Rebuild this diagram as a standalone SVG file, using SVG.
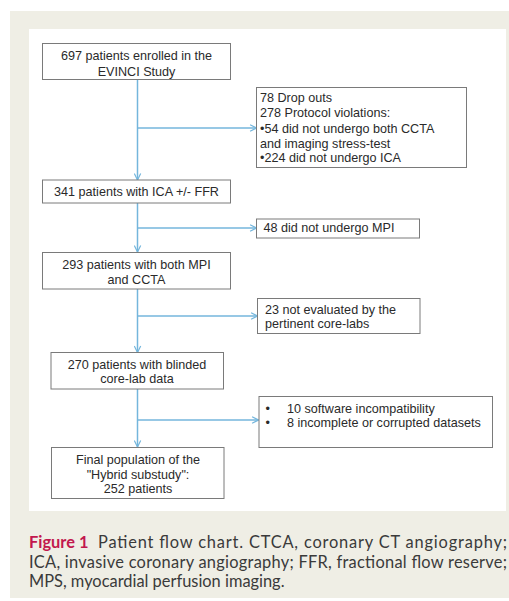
<svg xmlns="http://www.w3.org/2000/svg" width="509" height="601" viewBox="0 0 509 601">
<defs>
<style>
.box{fill:#fff;stroke:#7a7a7a;stroke-width:1}
.t{font-family:"Liberation Sans",Arial,sans-serif;font-size:12.6px;fill:#2a2a2a}
.c{text-anchor:middle}
.con{fill:none;stroke:#74b6dc;stroke-width:1.5}
.cap{font-family:Lato,"Open Sans",sans-serif;font-size:16.4px;fill:#3a3a3a}
.fig{font-weight:bold;fill:#c2184e}
</style>
<marker id="ah" viewBox="0 0 10 10" refX="9" refY="5" markerWidth="8" markerHeight="8" markerUnits="userSpaceOnUse" orient="auto">
<path d="M1,1 L9,5 L1,9" fill="none" stroke="#74b6dc" stroke-width="1.5"/>
</marker>
</defs>
<rect x="0" y="0" width="509" height="601" fill="#fff"/>
<rect x="10" y="11" width="499" height="587" fill="#efeee5"/>
<rect x="29" y="29" width="477" height="482" fill="#fff"/>

<g id="connectors">
<path class="con" d="M137.5,79.5 V180" marker-end="url(#ah)"/>
<path class="con" d="M137.5,128 H256.5" marker-end="url(#ah)"/>
<path class="con" d="M137.5,203 V252" marker-end="url(#ah)"/>
<path class="con" d="M137.5,228 H256.5" marker-end="url(#ah)"/>
<path class="con" d="M137.5,289 V352.5" marker-end="url(#ah)"/>
<path class="con" d="M137.5,316 H257.5" marker-end="url(#ah)"/>
<path class="con" d="M137.5,389 V447" marker-end="url(#ah)"/>
<path class="con" d="M137.5,420 H258.5" marker-end="url(#ah)"/>
</g>

<g id="n1">
<rect class="box" x="42.5" y="43.5" width="188" height="36"/>
<text class="t c" x="136.5" y="60">697 patients enrolled in the</text>
<text class="t c" x="136.5" y="76">EVINCI Study</text>
</g>
<g id="n2">
<rect class="box" x="256.5" y="87.5" width="210" height="80"/>
<text class="t" x="260" y="102">78 Drop outs</text>
<text class="t" x="260" y="117">278 Protocol violations:</text>
<text class="t" x="260" y="132.5">•54 did not undergo both CCTA</text>
<text class="t" x="260" y="147.5">and imaging stress-test</text>
<text class="t" x="260" y="162">•224 did not undergo ICA</text>
</g>
<g id="n3">
<rect class="box" x="42.5" y="180" width="188" height="23"/>
<text class="t c" x="136.5" y="196">341 patients with ICA +/- FFR</text>
</g>
<g id="n4">
<rect class="box" x="256.5" y="219" width="163" height="19"/>
<text class="t" x="263.5" y="232">48 did not undergo MPI</text>
</g>
<g id="n5">
<rect class="box" x="42.5" y="252.5" width="188" height="36.5"/>
<text class="t c" x="136.5" y="268.5">293 patients with both MPI</text>
<text class="t c" x="136.5" y="283.5">and CCTA</text>
</g>
<g id="n6">
<rect class="box" x="257.5" y="298.5" width="162.5" height="35"/>
<text class="t" x="265" y="313.5">23 not evaluated by the</text>
<text class="t" x="265" y="328">pertinent core-labs</text>
</g>
<g id="n7">
<rect class="box" x="51" y="352.5" width="172.5" height="36.5"/>
<text class="t c" x="137" y="368.5">270 patients with blinded</text>
<text class="t c" x="137" y="383">core-lab data</text>
</g>
<g id="n8">
<rect class="box" x="259" y="396.5" width="233.5" height="51"/>
<text class="t" x="265.5" y="413">•</text>
<text class="t" x="287" y="413">10 software incompatibility</text>
<text class="t" x="265.5" y="427">•</text>
<text class="t" x="287" y="427">8 incomplete or corrupted datasets</text>
</g>
<g id="n9">
<rect class="box" x="51.5" y="447.5" width="172.5" height="51"/>
<text class="t c" x="138" y="464">Final population of the</text>
<text class="t c" x="138" y="478.5">"Hybrid substudy":</text>
<text class="t c" x="138" y="493">252 patients</text>
</g>

<g id="caption">
<text class="cap fig" x="29" y="547.5">Figure 1</text>
<text class="cap" x="98" y="547.5" textLength="409" lengthAdjust="spacing">Patient flow chart. CTCA, coronary CT angiography;</text>
<text class="cap" x="29" y="567.5" textLength="478" lengthAdjust="spacing">ICA, invasive coronary angiography; FFR, fractional flow reserve;</text>
<text class="cap" x="29" y="587">MPS, myocardial perfusion imaging.</text>
</g>
</svg>
